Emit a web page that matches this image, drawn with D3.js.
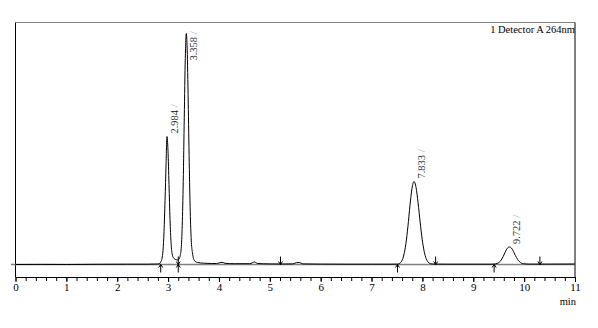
<!DOCTYPE html>
<html>
<head>
<meta charset="utf-8">
<script src="https://cdn.jsdelivr.net/npm/d3@7"></script>
<style>
  html, body { margin: 0; padding: 0; background: #fff; }
  svg { display: block; }
  text { font-family: "Liberation Serif", "DejaVu Serif", serif; }
</style>
</head>
<body>
<svg id="chart"></svg>
<script>
// retention time (min) and detector signal (mV)
const times = [0, 0.5, 1.0, 1.6, 2.2, 2.6, 2.80, 2.84, 2.86, 2.88, 2.90, 2.92, 2.94, 2.96, 2.978,
  2.998, 3.018, 3.038, 3.058, 3.078, 3.108, 3.15, 3.19, 3.218, 3.238, 3.258, 3.278, 3.298, 3.318,
  3.338, 3.358, 3.378, 3.398, 3.418, 3.438, 3.458, 3.478, 3.50, 3.53, 3.58, 3.70, 3.85, 3.95,
  4.02, 4.06, 4.12, 4.3, 4.6, 4.66, 4.70, 4.76, 5.0, 5.2, 5.45, 5.52, 5.58, 5.65, 6.0, 6.5, 7.0,
  7.4, 7.515, 7.555, 7.595, 7.635, 7.675, 7.715, 7.755, 7.795, 7.835, 7.875, 7.915, 7.955, 7.995,
  8.035, 8.075, 8.115, 8.155, 8.22, 8.5, 9.0, 9.35, 9.43, 9.47, 9.51, 9.55, 9.59, 9.63, 9.67,
  9.71, 9.75, 9.79, 9.83, 9.87, 9.91, 9.95, 9.99, 10.1, 10.5, 11.0];
const signal = [0, 0.1, 0, 0.2, 0.3, 0.3, 0.5, 1, 3, 6, 14, 33, 64, 100, 128,
  114, 80, 45, 22, 11, 6.5, 5, 4.5, 5.5, 9, 16, 39, 83, 147,
  206, 231, 210, 155, 95, 48, 22, 12, 6, 3.2, 2, 1.3, 1.0, 1.0,
  1.8, 2.2, 1.2, 0.8, 0.8, 1.8, 2.5, 1.0, 0.6, 0.5, 0.6, 1.8, 2.0, 0.6, 0.4, 0.3, 0.3,
  0.3, 0.4, 1.2, 3.6, 9.5, 20.7, 38, 58.7, 76, 83, 77, 61.7, 42.6, 25.4,
  13, 5.8, 2.2, 0.9, 0.4, 0.3, 0.3, 0.3, 0.5, 1.0, 2.2, 4.5, 8.2, 12.6, 16.3,
  17.5, 16.5, 13, 8.8, 5.2, 2.7, 1.3, 0.8, 0.4, 0.4, 0.5];

// peak apexes and their labels
const peakTimes = [2.978, 3.358, 7.835, 9.71];
const peakHeights = [128, 231, 83, 17.5];
const peakLabels = ["2.984", "3.358", "7.833", "9.722"];

// integration start (up) / end (down) marks
const markTimes = [2.855, 3.20, 3.20, 5.21, 7.51, 8.26, 9.41, 10.31];
const markTypes = ["up", "up", "down", "down", "up", "down", "up", "down"];

const majorTicks = [0, 1, 2, 3, 4, 5, 6, 7, 8, 9, 10, 11];

const W = 598, H = 328;
const plotLeft = 15.5, plotRight = 575, plotTop = 22.5, plotBottom = 277;

const svg = d3.select("#chart").attr("width", W).attr("height", H);

const x = d3.scaleLinear().domain([0, 11]).range([plotLeft, plotRight]);
const y = d3.scaleLinear().domain([-12.5, 242]).range([plotBottom, plotTop]);

const pts = times.map((t, i) => [t, signal[i]]);

// frame
svg.append("line")
  .attr("x1", plotLeft).attr("x2", plotRight).attr("y1", plotTop).attr("y2", plotTop)
  .attr("stroke", "#808080").attr("stroke-width", 1.2);
svg.append("line")
  .attr("x1", plotLeft).attr("x2", plotLeft).attr("y1", plotTop).attr("y2", plotBottom)
  .attr("stroke", "#000");
svg.append("line")
  .attr("x1", plotRight).attr("x2", plotRight).attr("y1", plotTop).attr("y2", plotBottom)
  .attr("stroke", "#000");

// baseline
svg.append("line")
  .attr("x1", x(-0.09)).attr("x2", plotRight).attr("y1", y(0)).attr("y2", y(0))
  .attr("stroke", "#808080").attr("stroke-width", 1.3);

// trace
svg.append("path")
  .datum(pts)
  .attr("fill", "none")
  .attr("stroke", "#000")
  .attr("stroke-width", 1)
  .attr("d", d3.line().x(d => x(d[0])).y(d => y(d[1])).curve(d3.curveMonotoneX));

// integration marks
const marks = svg.append("g").attr("stroke", "#000").attr("fill", "none");
markTimes.forEach((t, i) => {
  const mx = x(t), my = y(0);
  const s = markTypes[i] === "up" ? 1 : -1;
  marks.append("path")
    .attr("d", `M${mx},${my + s * 8}L${mx},${my}M${mx - 2},${my + s * 3}L${mx},${my}L${mx + 2},${my + s * 3}`);
});

// peak labels, rotated
peakTimes.forEach((t, i) => {
  const px = x(t) + 11;
  const len = 29;
  let py = y(peakHeights[i]) - 3;
  if (py - len < plotTop + 9) py = plotTop + 9 + len;
  const txt = svg.append("text")
    .attr("transform", `translate(${px},${py}) rotate(-90)`)
    .attr("font-size", 10.5)
    .attr("fill", "#333");
  txt.append("tspan").text(peakLabels[i]);
  txt.append("tspan").attr("fill", "#aaa").text(" /");
});

// detector caption
svg.append("text")
  .attr("x", plotRight).attr("y", 33)
  .attr("text-anchor", "end")
  .attr("font-size", 10.5)
  .text("1 Detector A 264nm");

// x axis
const minorTicks = d3.range(0, 11.001, 0.2).map(v => +v.toFixed(1));
svg.append("g")
  .attr("transform", `translate(0,${plotBottom})`)
  .call(d3.axisBottom(x).tickValues(minorTicks).tickSize(4).tickSizeOuter(0).tickFormat(""))
  .call(g => g.selectAll("line").attr("stroke", "#000"))
  .call(g => g.select(".domain").attr("stroke", "#000"));

svg.append("g")
  .attr("transform", `translate(0,${plotBottom})`)
  .call(d3.axisBottom(x).tickValues(majorTicks).tickSize(5).tickSizeOuter(0).tickFormat(d3.format("d")))
  .call(g => g.select(".domain").remove())
  .call(g => g.selectAll("line").attr("stroke", "#000"))
  .call(g => g.selectAll("text")
    .attr("font-family", "Liberation Serif")
    .attr("font-size", 11)
    .attr("fill", "#000")
    .attr("dy", "0.55em"));

svg.append("text")
  .attr("x", 576).attr("y", 305)
  .attr("text-anchor", "end")
  .attr("font-size", 10.5)
  .text("min");
</script>
</body>
</html>
